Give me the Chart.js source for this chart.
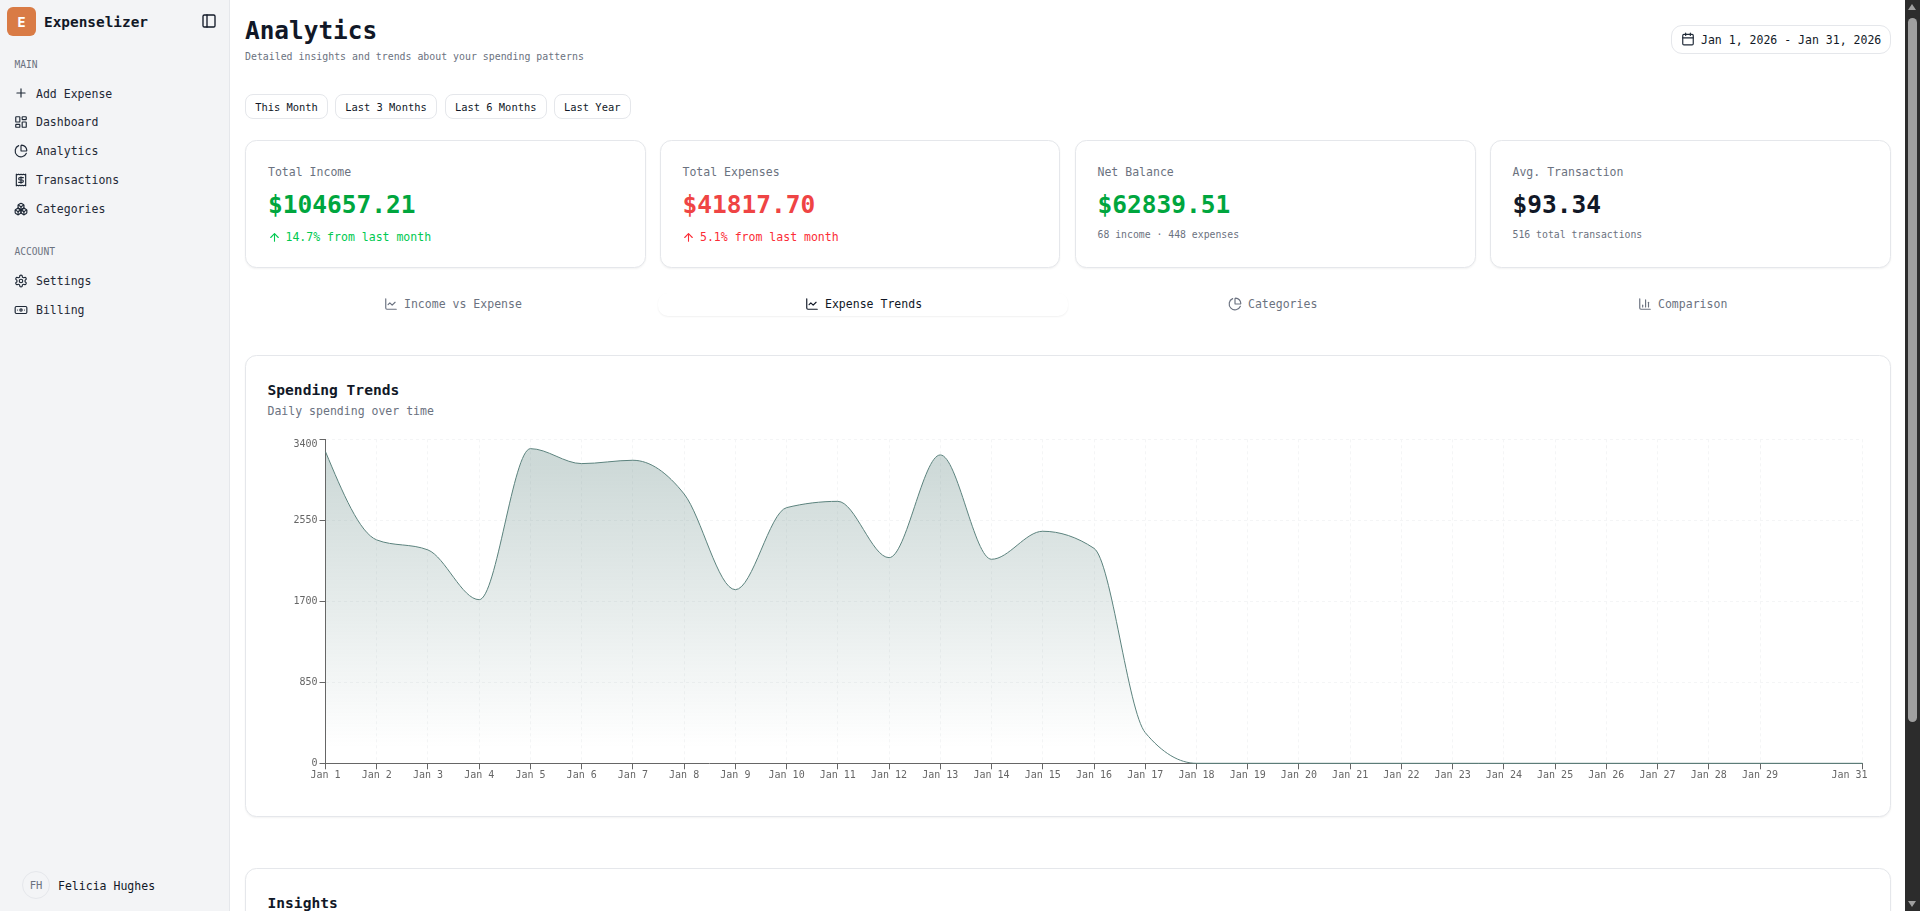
<!DOCTYPE html>
<html><head><meta charset="utf-8">
<script src="https://cdn.jsdelivr.net/npm/chart.js@4"></script>
<style>
*{box-sizing:border-box}
html,body{margin:0;padding:0;width:1920px;height:911px;overflow:hidden;background:#fff;font-family:"DejaVu Sans Mono",monospace;color:#111827}
.t{position:absolute;white-space:pre;line-height:20px;height:20px;transform:translateY(-10px)}
.box{position:absolute;background:#fff;border:1px solid #e5e7eb;border-radius:11.5px;box-shadow:0 1px 2px rgba(0,0,0,.05)}
.btn{position:absolute;background:#fff;border:1px solid #e5e7eb;border-radius:8px;display:flex;align-items:center;justify-content:center;font-size:10.4px;color:#111827}
svg.i{position:absolute;fill:none;stroke:currentColor;stroke-width:2;stroke-linecap:round;stroke-linejoin:round}
.nav{font-size:11.52px;color:#1f2937}
.mut{color:#6b7280}
.b{font-weight:700}
</style></head>
<body>
<div style="position:absolute;left:0;top:0;width:230px;height:911px;background:#f3f4f6;border-right:1px solid #e5e7eb"></div>
<div style="position:absolute;left:7px;top:7px;width:29px;height:29px;border-radius:6px;background:#d97b45;color:#fff;font-weight:700;font-size:14px;display:flex;align-items:center;justify-content:center">E</div>
<div class="t b" style="left:44px;top:22px;font-size:14.4px">Expenselizer</div>
<svg class="i" viewBox="0 0 24 24" style="left:201px;top:13px;width:16px;height:16px;color:#111827"><rect x="3" y="3" width="18" height="18" rx="2"/><path d="M9 3v18"/></svg>

<div class="t mut" style="left:14.5px;top:64.5px;font-size:9.6px">MAIN</div>
<svg class="i nv" viewBox="0 0 24 24" style="left:14px;top:86px;width:14px;height:14px;color:#1f2937"><path d="M5 12h14M12 5v14"/></svg>
<div class="t nav" style="left:36px;top:94px">Add Expense</div>
<svg class="i" viewBox="0 0 24 24" style="left:14px;top:115px;width:14px;height:14px;color:#1f2937"><rect x="3" y="3" width="7" height="9" rx="1"/><rect x="14" y="3" width="7" height="5" rx="1"/><rect x="14" y="12" width="7" height="9" rx="1"/><rect x="3" y="16" width="7" height="5" rx="1"/></svg>
<div class="t nav" style="left:36px;top:122px">Dashboard</div>
<svg class="i" viewBox="0 0 24 24" style="left:14px;top:144px;width:14px;height:14px;color:#1f2937"><path d="M21 12c.552 0 1.005-.449.95-.998a10 10 0 0 0-8.953-8.951c-.55-.055-.998.398-.998.95v8a1 1 0 0 0 1 1z"/><path d="M21.21 15.89A10 10 0 1 1 8 2.83"/></svg>
<div class="t nav" style="left:36px;top:151px">Analytics</div>
<svg class="i" viewBox="0 0 24 24" style="left:14px;top:173px;width:14px;height:14px;color:#1f2937"><path d="M4 2v20l2-1 2 1 2-1 2 1 2-1 2 1 2-1 2 1V2l-2 1-2-1-2 1-2-1-2 1-2-1-2 1Z"/><path d="M16 8h-6a2 2 0 1 0 0 4h4a2 2 0 1 1 0 4H8"/><path d="M12 17.5v-11"/></svg>
<div class="t nav" style="left:36px;top:180px">Transactions</div>
<svg class="i" viewBox="0 0 24 24" style="left:14px;top:202px;width:14px;height:14px;color:#1f2937"><path d="M2.97 12.92A2 2 0 0 0 2 14.63v3.24a2 2 0 0 0 .97 1.71l3 1.8a2 2 0 0 0 2.06 0L12 19v-5.5l-5-3-4.03 2.42Z"/><path d="m7 16.5-4.74-2.85"/><path d="m7 16.5 5-3"/><path d="M7 16.5v5.17"/><path d="M12 13.5V19l3.97 2.38a2 2 0 0 0 2.06 0l3-1.8a2 2 0 0 0 .97-1.71v-3.24a2 2 0 0 0-.97-1.71L17 10.5l-5 3Z"/><path d="m17 16.5-5-3"/><path d="m17 16.5 4.74-2.85"/><path d="M17 16.5v5.17"/><path d="M7.97 4.42A2 2 0 0 0 7 6.13v4.37l5 3 5-3V6.13a2 2 0 0 0-.97-1.71l-3-1.8a2 2 0 0 0-2.06 0l-3 1.8Z"/><path d="M12 8 7.26 5.15"/><path d="m12 8 4.74-2.85"/><path d="M12 13.5V8"/></svg>
<div class="t nav" style="left:36px;top:209px">Categories</div>

<div class="t mut" style="left:14.5px;top:251.5px;font-size:9.6px">ACCOUNT</div>
<svg class="i" viewBox="0 0 24 24" style="left:14px;top:274px;width:14px;height:14px;color:#1f2937"><path d="M12.22 2h-.44a2 2 0 0 0-2 2v.18a2 2 0 0 1-1 1.73l-.43.25a2 2 0 0 1-2 0l-.15-.08a2 2 0 0 0-2.73.73l-.22.38a2 2 0 0 0 .73 2.73l.15.1a2 2 0 0 1 1 1.72v.51a2 2 0 0 1-1 1.74l-.15.09a2 2 0 0 0-.73 2.73l.22.38a2 2 0 0 0 2.73.73l.15-.08a2 2 0 0 1 2 0l.43.25a2 2 0 0 1 1 1.73V20a2 2 0 0 0 2 2h.44a2 2 0 0 0 2-2v-.18a2 2 0 0 1 1-1.73l.43-.25a2 2 0 0 1 2 0l.15.08a2 2 0 0 0 2.73-.73l.22-.39a2 2 0 0 0-.73-2.73l-.15-.08a2 2 0 0 1-1-1.74v-.5a2 2 0 0 1 1-1.74l.15-.09a2 2 0 0 0 .73-2.73l-.22-.38a2 2 0 0 0-2.73-.73l-.15.08a2 2 0 0 1-2 0l-.43-.25a2 2 0 0 1-1-1.73V4a2 2 0 0 0-2-2z"/><circle cx="12" cy="12" r="3"/></svg>
<div class="t nav" style="left:36px;top:281px">Settings</div>
<svg class="i" viewBox="0 0 24 24" style="left:14px;top:303px;width:14px;height:14px;color:#1f2937"><rect x="2" y="6" width="20" height="12" rx="2"/><circle cx="12" cy="12" r="2"/><path d="M6 12h.01M18 12h.01"/></svg>
<div class="t nav" style="left:36px;top:310px">Billing</div>

<div style="position:absolute;left:22px;top:871px;width:28px;height:28px;border:1px solid #e5e7eb;border-radius:50%;display:flex;align-items:center;justify-content:center;font-size:10.5px;color:#6b7280">FH</div>
<div class="t nav" style="left:58px;top:886px;color:#111827">Felicia Hughes</div>

<div class="t b" style="left:245px;top:31px;font-size:24.4px">Analytics</div>
<div class="t mut" style="left:245px;top:56.5px;font-size:9.9px">Detailed insights and trends about your spending patterns</div>

<div class="box" style="left:1671px;top:25px;width:220px;height:29px;border-radius:11px;box-shadow:none"></div>
<svg class="i" viewBox="0 0 24 24" style="left:1681px;top:32px;width:14px;height:14px;color:#1f2937"><path d="M8 2v4M16 2v4"/><rect x="3" y="4" width="18" height="18" rx="2"/><path d="M3 10h18"/></svg>
<div class="t" style="left:1701px;top:40px;font-size:11.52px">Jan 1, 2026 - Jan 31, 2026</div>

<div class="btn" style="left:245px;top:94px;width:83px;height:25px">This Month</div>
<div class="btn" style="left:335px;top:94px;width:102px;height:25px">Last 3 Months</div>
<div class="btn" style="left:445px;top:94px;width:101.5px;height:25px">Last 6 Months</div>
<div class="btn" style="left:554px;top:94px;width:76.5px;height:25px">Last Year</div>

<div class="box" style="left:245px;top:140px;width:400.5px;height:128px"></div>
<div class="t mut" style="left:268px;top:172px;font-size:11.52px">Total Income</div>
<div class="t b" style="left:268px;top:205px;font-size:24.5px;color:#00a63e">$104657.21</div>
<svg class="i" viewBox="0 0 24 24" style="left:267.5px;top:230.5px;width:13px;height:13px;color:#00c951"><path d="m5 12 7-7 7 7"/><path d="M12 19V5"/></svg>
<div class="t" style="left:285.5px;top:236.5px;font-size:11.52px;color:#00c951">14.7% from last month</div>

<div class="box" style="left:660px;top:140px;width:400px;height:128px"></div>
<div class="t mut" style="left:682.5px;top:172px;font-size:11.52px">Total Expenses</div>
<div class="t b" style="left:682.5px;top:205px;font-size:24.5px;color:#ef4444">$41817.70</div>
<svg class="i" viewBox="0 0 24 24" style="left:682px;top:230.5px;width:13px;height:13px;color:#fb2c36"><path d="m5 12 7-7 7 7"/><path d="M12 19V5"/></svg>
<div class="t" style="left:700px;top:236.5px;font-size:11.52px;color:#fb2c36">5.1% from last month</div>

<div class="box" style="left:1075px;top:140px;width:400.5px;height:128px"></div>
<div class="t mut" style="left:1097.5px;top:172px;font-size:11.52px">Net Balance</div>
<div class="t b" style="left:1097.5px;top:205px;font-size:24.5px;color:#00a63e">$62839.51</div>
<div class="t mut" style="left:1097.5px;top:234.5px;font-size:9.8px">68 income · 448 expenses</div>

<div class="box" style="left:1490px;top:140px;width:400.5px;height:128px"></div>
<div class="t mut" style="left:1512.5px;top:172px;font-size:11.52px">Avg. Transaction</div>
<div class="t b" style="left:1512.5px;top:205px;font-size:24.5px;color:#111827">$93.34</div>
<div class="t mut" style="left:1512.5px;top:234.5px;font-size:9.8px">516 total transactions</div>

<svg class="i" viewBox="0 0 24 24" style="left:384px;top:297px;width:14px;height:14px;color:#6b7280"><path d="M3 3v16a2 2 0 0 0 2 2h16"/><path d="m19 9-5 5-4-4-3 3"/></svg>
<div class="t mut" style="left:404px;top:304px;font-size:11.52px">Income vs Expense</div>
<div style="position:absolute;left:658px;top:293px;width:410px;height:23px;background:#fff;border-radius:10px;box-shadow:0 1px 2px rgba(0,0,0,.06)"></div>
<svg class="i" viewBox="0 0 24 24" style="left:805px;top:297px;width:14px;height:14px;color:#111827"><path d="M3 3v16a2 2 0 0 0 2 2h16"/><path d="m19 9-5 5-4-4-3 3"/></svg>
<div class="t" style="left:825px;top:304px;font-size:11.52px">Expense Trends</div>
<svg class="i" viewBox="0 0 24 24" style="left:1228px;top:297px;width:14px;height:14px;color:#6b7280"><path d="M21 12c.552 0 1.005-.449.95-.998a10 10 0 0 0-8.953-8.951c-.55-.055-.998.398-.998.95v8a1 1 0 0 0 1 1z"/><path d="M21.21 15.89A10 10 0 1 1 8 2.83"/></svg>
<div class="t mut" style="left:1248px;top:304px;font-size:11.52px">Categories</div>
<svg class="i" viewBox="0 0 24 24" style="left:1638px;top:297px;width:14px;height:14px;color:#6b7280"><path d="M3 3v16a2 2 0 0 0 2 2h16"/><path d="M18 17V9"/><path d="M13 17V5"/><path d="M8 17v-3"/></svg>
<div class="t mut" style="left:1658px;top:304px;font-size:11.52px">Comparison</div>

<div class="box" style="left:245px;top:355px;width:1645.5px;height:461.5px"></div>
<div class="t b" style="left:267.5px;top:390px;font-size:14.6px">Spending Trends</div>
<div class="t mut" style="left:267.5px;top:411px;font-size:11.52px">Daily spending over time</div>
<canvas id="c" width="1620" height="380" style="position:absolute;left:266px;top:428px;width:1620px;height:380px"></canvas>

<div class="box" style="left:245px;top:868px;width:1645.5px;height:120px"></div>
<div class="t b" style="left:267.5px;top:903px;font-size:14.6px">Insights</div>

<div style="position:absolute;left:1905px;top:0;width:15px;height:911px;background:#2c2c2c"></div>
<div style="position:absolute;left:1908px;top:18px;width:9px;height:704px;background:#9f9f9f;border-radius:5px"></div>
<div style="position:absolute;left:1908px;top:4px;width:0;height:0;border-left:4.5px solid transparent;border-right:4.5px solid transparent;border-bottom:6px solid #9f9f9f"></div>
<div style="position:absolute;left:1908px;top:901px;width:0;height:0;border-left:4.5px solid transparent;border-right:4.5px solid transparent;border-top:6px solid #9f9f9f"></div>

<script>
const categories = ["Jan 1","Jan 2","Jan 3","Jan 4","Jan 5","Jan 6","Jan 7","Jan 8","Jan 9","Jan 10","Jan 11","Jan 12","Jan 13","Jan 14","Jan 15","Jan 16","Jan 17","Jan 18","Jan 19","Jan 20","Jan 21","Jan 22","Jan 23","Jan 24","Jan 25","Jan 26","Jan 27","Jan 28","Jan 29","Jan 30","Jan 31"];
const dailySpending = [3270,2344,2239,1717,3302,3145,3180,2826,1822,2683,2749,2158,3236,2141,2435,2256,322,0,0,0,0,0,0,0,0,0,0,0,0,0,0];
const yTickValues = [0,850,1700,2550,3400];
const hiddenXLabels = ["Jan 30"];

const STROKE = "#5b827d";
const AXIS = "#666666";
const GRID = "#f4f5f6";
const FONT = {family:'"DejaVu Sans Mono", monospace', size:10};

// d3-style monotoneX tangents, applied to the points the library positioned
function applyMonotoneX(pts){
  const sign = v => v < 0 ? -1 : 1, n = pts.length, t = new Array(n).fill(0);
  for(let i=1;i<n-1;i++){
    const h0=pts[i].x-pts[i-1].x,h1=pts[i+1].x-pts[i].x;
    const s0=(pts[i].y-pts[i-1].y)/h0,s1=(pts[i+1].y-pts[i].y)/h1;
    const p=(s0*h1+s1*h0)/(h0+h1);
    t[i]=(sign(s0)+sign(s1))*Math.min(Math.abs(s0),Math.abs(s1),0.5*Math.abs(p))||0;
  }
  const hs=pts[1].x-pts[0].x, he=pts[n-1].x-pts[n-2].x;
  t[0]=(3*(pts[1].y-pts[0].y)/hs-t[1])/2;
  t[n-1]=(3*(pts[n-1].y-pts[n-2].y)/he-t[n-2])/2;
  for(let i=0;i<n;i++){
    const hp=i>0?pts[i].x-pts[i-1].x:0, hn=i<n-1?pts[i+1].x-pts[i].x:0;
    pts[i].cp1x=pts[i].x-hp/3; pts[i].cp1y=pts[i].y-hp/3*t[i];
    pts[i].cp2x=pts[i].x+hn/3; pts[i].cp2y=pts[i].y+hn/3*t[i];
  }
}
const curvePlugin = {id:"curve",beforeDatasetsDraw(chart){
  const meta=chart.getDatasetMeta(0);
  meta.dataset.updateControlPoints(chart.chartArea,"x");
  applyMonotoneX(meta.data);
}};
// nudges the first y-axis label and the last x-axis label inward as in the reference
const labelNudge = {id:"labelNudge",beforeDraw(chart){
  const yi=chart.scales.y.getLabelItems(), xi=chart.scales.x.getLabelItems();
  if(!yi._n){yi._n=1; yi[yi.length-1].options.translation[1]+=5;}
  if(!xi._n){xi._n=1; xi[xi.length-1].options.translation[0]-=13;}
}};

new Chart(document.getElementById("c"),{
  type:"line",
  plugins:[curvePlugin,labelNudge],
  data:{labels:categories,datasets:[{
    data:dailySpending,
    borderColor:STROKE,borderWidth:1,pointRadius:0,pointHoverRadius:0,
    cubicInterpolationMode:"monotone",clip:false,fill:"origin",
    backgroundColor(ctx){
      const {chart}=ctx; const a=chart.chartArea; if(!a) return "transparent";
      const y=chart.scales.y;
      const g=chart.ctx.createLinearGradient(0,y.getPixelForValue(Math.max(...dailySpending)),0,y.getPixelForValue(0));
      g.addColorStop(0.05,"rgba(91,130,125,0.3)");
      g.addColorStop(0.95,"rgba(91,130,125,0)");
      return g;
    }
  }]},
  options:{
    responsive:false,animation:false,devicePixelRatio:1,
    layout:{padding:{left:0,top:11.3,right:23.5,bottom:0}},
    plugins:{legend:{display:false},tooltip:{enabled:false},title:{display:false}},
    scales:{
      x:{type:"category",offset:false,
        afterBuildTicks(s){s.ticks=s.ticks.filter(t=>!hiddenXLabels.includes(categories[t.value]));},
        afterFit(s){s.height=44.7;},
        grid:{color:GRID,tickColor:AXIS,tickLength:6,tickWidth:1,lineWidth:1},
        border:{color:AXIS,width:1,dash:[3,3]},
        ticks:{font:FONT,color:AXIS,padding:0,autoSkip:false,maxRotation:0,minRotation:0}},
      y:{type:"linear",min:0,max:3400,
        afterBuildTicks(s){s.ticks=yTickValues.map(v=>({value:v}));},
        afterFit(s){s.width=59.5;},
        grid:{color:GRID,tickColor:AXIS,tickLength:6,tickWidth:1,lineWidth:1},
        border:{color:AXIS,width:1,dash:[3,3]},
        ticks:{font:FONT,color:AXIS,padding:2,callback:v=>String(v)}}
    }
  }
});
</script>
</body></html>
